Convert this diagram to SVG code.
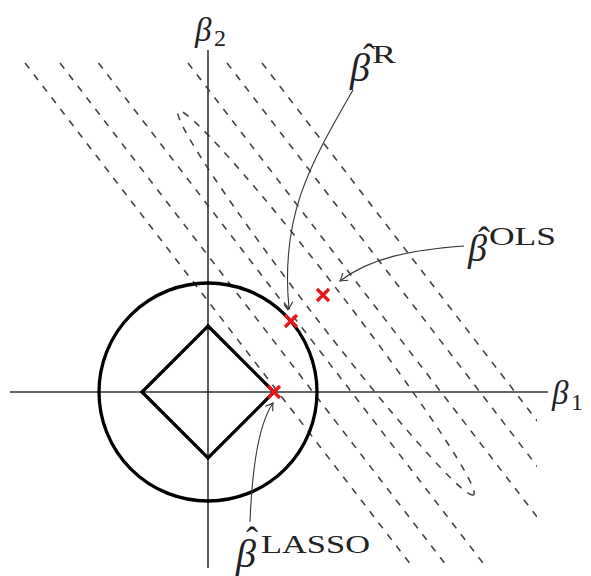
<svg xmlns="http://www.w3.org/2000/svg" width="591" height="576" viewBox="0 0 591 576">
<defs>
<style>
.dash{fill:none;stroke:#444;stroke-width:1.6;stroke-dasharray:7 7.5}
.axis{stroke:#333;stroke-width:1.6;fill:none}
.thick{fill:none;stroke:#000;stroke-width:3.3}
.cross{fill:none;stroke:#e8141c;stroke-width:3.2}
.arrow{fill:none;stroke:#333;stroke-width:1.1;marker-end:url(#ah)}
.lbl{font-family:"Liberation Serif","DejaVu Serif",serif;fill:#222}
.it{font-style:italic}
</style>
<marker id="ah" markerUnits="userSpaceOnUse" markerWidth="12" markerHeight="12" refX="0" refY="0" viewBox="-7 -6 8 12" orient="auto" overflow="visible">
<path d="M-7,-4.5 Q-2,-1 0,0 Q-2,1 -7,4.5" fill="none" stroke="#333" stroke-width="1.1"/>
</marker>
<path id="x" class="cross" d="M-6,-6 L6,6 M-6,6 L6,-6"/>
<clipPath id="clip"><rect x="0" y="62" width="537" height="504"/></clipPath>
</defs>

<g id="contours" clip-path="url(#clip)">
<line class="dash" x1="25" y1="63" x2="411" y2="565"/>
<line class="dash" x1="60" y1="63" x2="446" y2="565"/>
<line class="dash" x1="98.5" y1="63" x2="484.5" y2="565"/>
<line class="dash" x1="188" y1="63" x2="574" y2="565"/>
<line class="dash" x1="227" y1="63" x2="613" y2="565"/>
<line class="dash" x1="262" y1="63" x2="648" y2="565"/>
<ellipse class="dash" cx="326" cy="303" rx="242" ry="17" transform="rotate(52.43 326 303)"/>
</g>

<g id="axes">
<line class="axis" x1="208" y1="50" x2="208" y2="568"/>
<line class="axis" x1="10" y1="392" x2="548" y2="392"/>
</g>

<g id="ridge-constraint"><circle class="thick" cx="208" cy="392" r="109"/></g>
<g id="lasso-constraint"><polygon class="thick" points="208,326 274,392 208,458 142,392"/></g>

<g id="points">
<use href="#x" x="323" y="295"/>
<use href="#x" x="291" y="321"/>
<use href="#x" x="274" y="392"/>
</g>

<g id="connectors">
<path class="arrow" d="M353,90 C310,165 280,215 289,309"/>
<path class="arrow" d="M464,246 C410,250 370,258 340,281"/>
<path class="arrow" d="M250,522 C252,470 258,425 273,403"/>
</g>

<g id="label-beta2">
<text class="lbl"><tspan class="it" x="195" y="41" font-size="33">β</tspan><tspan x="214" y="46" font-size="24">2</tspan></text>
</g>
<g id="label-beta1">
<text class="lbl"><tspan class="it" x="552" y="404" font-size="33">β</tspan><tspan x="571" y="410" font-size="24">1</tspan></text>
</g>
<g id="label-ridge">
<text class="lbl"><tspan class="it" x="350" y="81" font-size="40">β</tspan><tspan x="363" y="69" font-size="36">ˆ</tspan><tspan x="372" y="63" font-size="26" textLength="24" lengthAdjust="spacingAndGlyphs">R</tspan></text>
</g>
<g id="label-ols">
<text class="lbl"><tspan class="it" x="468" y="261" font-size="38">β</tspan><tspan x="478" y="252" font-size="36">ˆ</tspan><tspan x="489" y="245" font-size="26" textLength="67" lengthAdjust="spacingAndGlyphs">OLS</tspan></text>
</g>
<g id="label-lasso">
<text class="lbl"><tspan class="it" x="236" y="567" font-size="40">β</tspan><tspan x="246" y="552" font-size="36">ˆ</tspan><tspan x="261" y="553" font-size="26" textLength="109" lengthAdjust="spacingAndGlyphs">LASSO</tspan></text>
</g>
</svg>
